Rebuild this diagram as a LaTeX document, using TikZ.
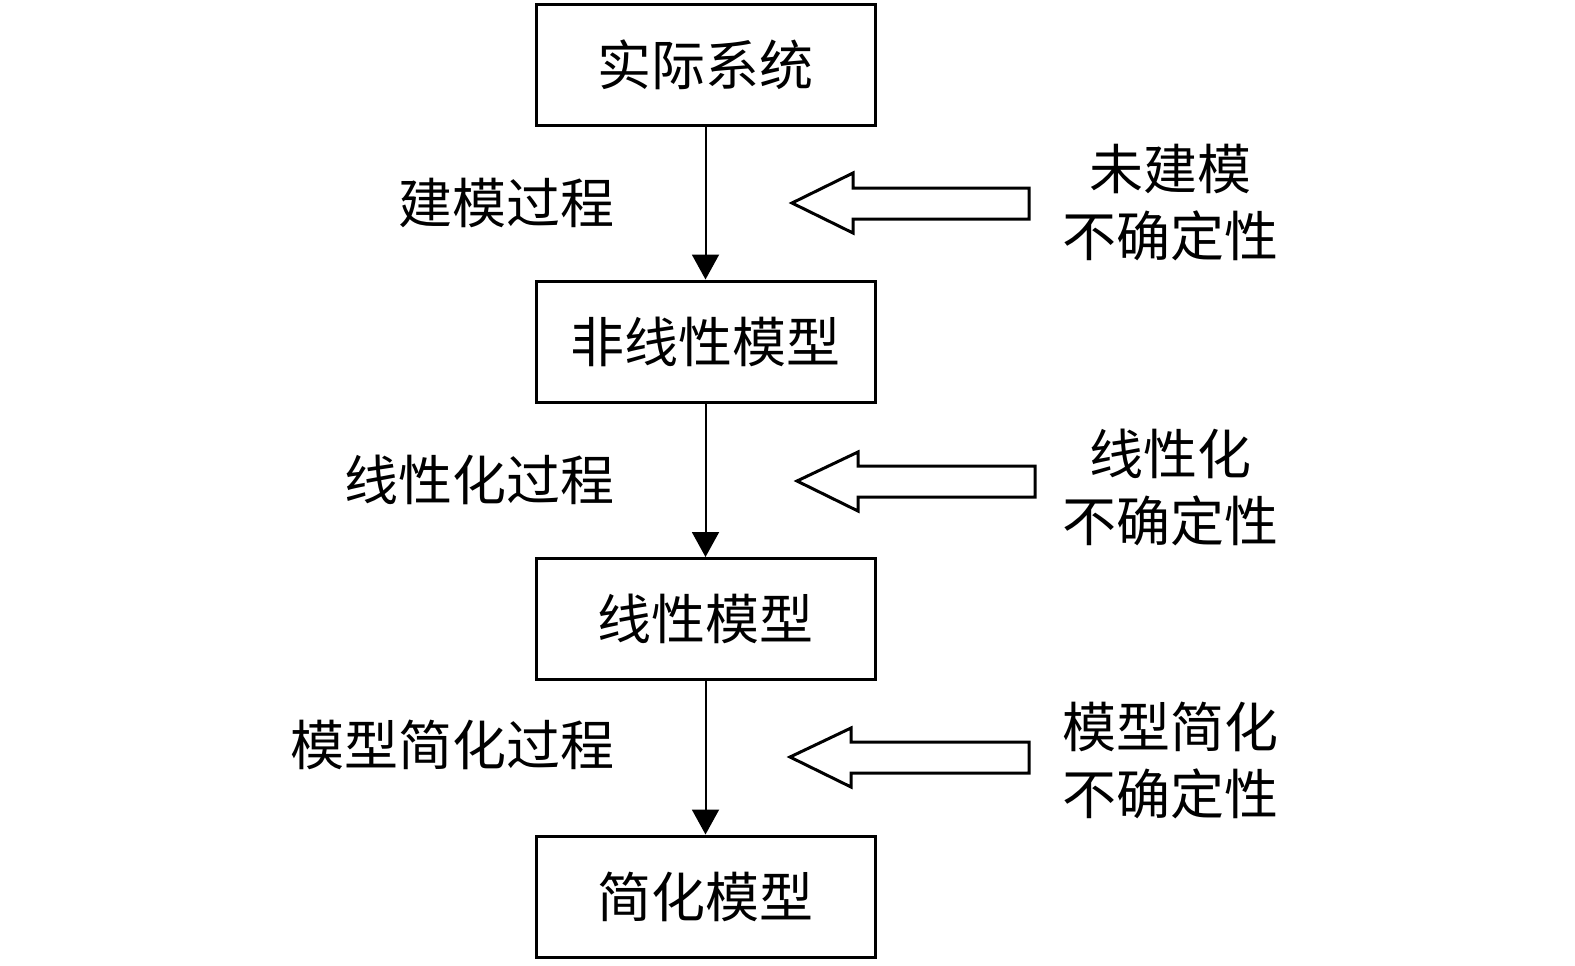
\documentclass[tikz,border=0pt]{standalone}
\usepackage{fontspec}
\usetikzlibrary{arrows.meta}
\newfontfamily\cjk{Noto Sans CJK SC}
\begin{document}
\begin{tikzpicture}[x=0.5pt,y=-0.5pt,
  box/.style={draw,line width=1.5pt,minimum width=169.5pt,minimum height=60.5pt,inner sep=0pt,font=\cjk\fontsize{27}{33.5}\selectfont},
  lbl/.style={inner sep=0pt,font=\cjk\fontsize{27}{33.5}\selectfont},
  rlbl/.style={inner sep=0pt,align=center,font=\cjk\fontsize{27}{33.5}\selectfont},
  flow/.style={line width=1pt,-{Triangle[length=12.5pt,width=13.5pt]}},
  hollow/.style={draw,line width=1.5pt,line join=miter,fill=white}]
\useasboundingbox (0,0) rectangle (1575,965);
\node[box] (b1) at (705.5,64.5) {实际系统};
\node[box] (b2) at (705.5,341.5) {非线性模型};
\node[box] (b3) at (705.5,619) {线性模型};
\node[box] (b4) at (705.5,896.5) {简化模型};
\draw[flow] (b1.south) -- (b2.north);
\draw[flow] (b2.south) -- (b3.north);
\draw[flow] (b3.south) -- (b4.north);
\node[lbl,anchor=east] (l1) at (615,203) {建模过程};
\node[lbl,anchor=east] (l2) at (615,480) {线性化过程};
\node[lbl,anchor=east] (l3) at (615,745) {模型简化过程};
\node[rlbl] (r1) at (1170,203) {未建模\\不确定性};
\node[rlbl] (r2) at (1170,487) {线性化\\不确定性};
\node[rlbl] (r3) at (1170,760) {模型简化\\不确定性};
\draw[hollow] (792,203) -- (853,173) -- (853,188) -- (1029,188) -- (1029,219) -- (853,219) -- (853,233) -- cycle;
\draw[hollow] (797,481) -- (858,452) -- (858,466) -- (1035,466) -- (1035,497) -- (858,497) -- (858,511) -- cycle;
\draw[hollow] (790,757) -- (851,728) -- (851,742) -- (1029,742) -- (1029,773) -- (851,773) -- (851,787) -- cycle;
\end{tikzpicture}
\end{document}
